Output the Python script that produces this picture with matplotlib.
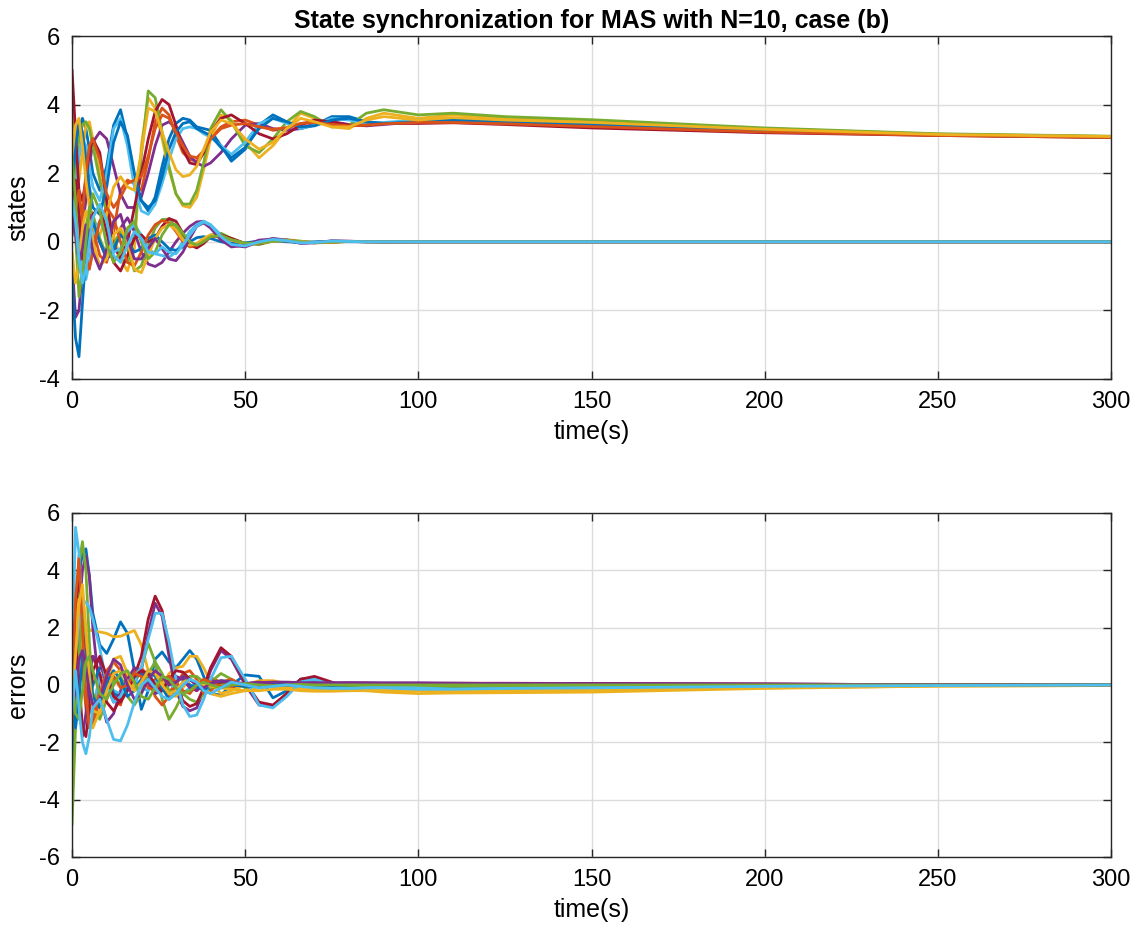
import matplotlib
matplotlib.use("Agg")
import matplotlib.pyplot as plt

plt.rcParams['font.family'] = ['Liberation Sans Narrow', 'Liberation Sans', 'DejaVu Sans']
plt.rcParams['axes.unicode_minus'] = False  # MATLAB shows a plain hyphen

# sample times (s)
t = [0, 1, 2, 3, 4, 5, 6,
     8, 10, 12, 14, 16, 18, 20,
     22, 24, 26, 28, 30, 32, 34,
     36, 38, 40, 43, 46, 50, 54,
     58, 62, 66, 70, 75, 80, 85,
     90, 100, 110, 125, 150, 200, 250,
     300]

# first state of the 10 agents (settles near 3)
x1_agents = [
    [0.2, 2.0, 3.3, 3.6, 3.3, 2.7, 2.0, 1.5, 2.2, 3.4, 3.85, 3.0, 1.8, 1.2,
     0.9, 1.3, 2.2, 3.0, 3.45, 3.6, 3.55, 3.35, 3.3, 3.25, 2.8, 2.35, 2.7, 3.4,
     3.7, 3.5, 3.3, 3.4, 3.65, 3.65, 3.5, 3.45, 3.55, 3.6, 3.52, 3.45, 3.27, 3.13, 3.06],
    [0.3, 1.0, 2.5, 3.0, 2.2, 1.2, 0.4, -0.4, -0.6, 0.3, 1.5, 1.8, 1.7, 1.5,
     2.4, 3.5, 3.9, 3.7, 3.1, 2.6, 2.4, 2.35, 2.6, 3.0, 3.35, 3.5, 3.55, 3.4,
     3.25, 3.3, 3.45, 3.5, 3.45, 3.4, 3.4, 3.45, 3.5, 3.5, 3.45, 3.38, 3.22, 3.11, 3.05],
    [4.0, 3.0, 1.8, 2.6, 3.4, 3.5, 3.0, 2.0, 1.0, 0.2, -0.5, -0.85, -0.2, 2.8,
     4.2, 3.9, 3.0, 2.1, 1.4, 1.05, 1.0, 1.3, 2.1, 3.0, 3.7, 3.55, 2.9, 2.45,
     2.8, 3.3, 3.75, 3.6, 3.35, 3.3, 3.6, 3.75, 3.6, 3.7, 3.6, 3.52, 3.3, 3.14, 3.07],
    [3.1, 2.2, 0.8, 0.5, 1.2, 2.2, 2.9, 3.2, 3.0, 2.2, 1.4, 1.0, 1.0, 1.3,
     2.0, 2.8, 3.4, 3.5, 3.3, 2.9, 2.5, 2.3, 2.2, 2.3, 2.6, 3.0, 3.4, 3.45,
     3.3, 3.25, 3.3, 3.45, 3.5, 3.42, 3.38, 3.42, 3.5, 3.5, 3.45, 3.38, 3.22, 3.11, 3.05],
    [1.0, 2.2, 3.0, 3.4, 3.5, 3.3, 2.8, 1.8, 0.8, 0.0, -0.5, -0.6, 0.2, 2.5,
     4.4, 4.2, 3.2, 2.2, 1.4, 1.1, 1.1, 1.5, 2.3, 3.3, 3.85, 3.5, 2.8, 2.6,
     3.0, 3.5, 3.8, 3.65, 3.35, 3.4, 3.75, 3.85, 3.7, 3.75, 3.65, 3.56, 3.32, 3.15, 3.08],
    [0.8, 1.5, 2.5, 3.0, 2.8, 2.2, 1.6, 1.2, 2.0, 3.3, 3.6, 2.8, 1.6, 0.9,
     0.8, 1.1, 1.7, 2.4, 3.0, 3.3, 3.35, 3.3, 3.15, 3.05, 2.8, 2.55, 2.9, 3.45,
     3.6, 3.45, 3.3, 3.4, 3.6, 3.55, 3.45, 3.48, 3.55, 3.52, 3.48, 3.4, 3.24, 3.12, 3.06],
    [5.0, 3.2, 1.5, 1.2, 1.8, 2.6, 3.0, 2.6, 1.2, -0.1, -0.5, 0.0, 1.0, 2.0,
     3.0, 3.8, 4.15, 4.0, 3.4, 2.7, 2.3, 2.25, 2.6, 3.2, 3.6, 3.7, 3.45, 3.15,
     3.0, 3.15, 3.4, 3.55, 3.5, 3.4, 3.4, 3.45, 3.45, 3.47, 3.42, 3.32, 3.18, 3.1, 3.04],
    [1.5, 2.8, 3.5, 3.2, 2.4, 1.6, 1.0, 0.8, 1.6, 2.9, 3.5, 3.1, 2.0, 1.2,
     1.0, 1.2, 1.9, 2.7, 3.2, 3.45, 3.5, 3.3, 3.2, 3.1, 2.75, 2.45, 2.75, 3.3,
     3.6, 3.5, 3.35, 3.38, 3.55, 3.6, 3.5, 3.45, 3.5, 3.55, 3.5, 3.42, 3.25, 3.12, 3.05],
    [2.0, 0.5, -0.2, 0.8, 2.0, 2.8, 3.0, 2.4, 1.4, 1.0, 1.3, 1.7, 1.8, 1.9,
     2.5, 3.3, 3.7, 3.6, 3.2, 2.8, 2.5, 2.45, 2.65, 3.0, 3.3, 3.4, 3.45, 3.35,
     3.28, 3.33, 3.45, 3.48, 3.42, 3.38, 3.4, 3.44, 3.48, 3.48, 3.44, 3.36, 3.2, 3.1, 3.04],
    [2.5, 3.4, 3.6, 2.8, 1.8, 1.0, 0.4, 0.2, 0.8, 1.6, 1.9, 1.6, 1.5, 2.6,
     3.9, 3.8, 3.2, 2.6, 2.1, 1.9, 1.95, 2.2, 2.7, 3.2, 3.55, 3.45, 3.0, 2.7,
     2.9, 3.3, 3.6, 3.5, 3.35, 3.35, 3.55, 3.65, 3.55, 3.62, 3.55, 3.48, 3.28, 3.13, 3.07],
]

# second state of the 10 agents (settles at 0)
x2_agents = [
    [-0.5, -2.2, -2.0, -0.8, 0.3, 0.8, 0.6, 0.0, -0.5, -0.3, 0.4, 0.7, 0.3, -0.3,
     -0.65, -0.72, -0.6, -0.3, 0.0, 0.25, 0.45, 0.58, 0.6, 0.45, 0.15, -0.1, -0.15, 0.0,
     0.1, 0.05, -0.05, -0.03, 0.03, 0.02, 0.0, -0.01, 0.0, 0.0, 0.0, 0.0, 0.0, 0.0, 0.0],
    [1.5, 0.2, -1.6, -0.8, 0.4, 1.0, 0.8, 0.1, -0.4, -0.1, 0.3, -0.2, -0.85, -0.7,
     -0.1, 0.4, 0.65, 0.66, 0.45, 0.1, -0.12, -0.15, 0.0, 0.2, 0.25, 0.1, -0.05, -0.08,
     0.02, 0.06, 0.02, -0.03, -0.02, 0.01, 0.01, 0.0, 0.0, 0.0, 0.0, 0.0, 0.0, 0.0, 0.0],
    [0.5, 1.3, 0.6, -0.9, -1.1, -0.6, 0.2, 0.6, 0.2, -0.3, -0.2, 0.3, 0.5, 0.2,
     -0.2, -0.35, -0.4, -0.45, -0.3, 0.0, 0.3, 0.5, 0.6, 0.5, 0.2, -0.05, -0.1, 0.02,
     0.08, 0.03, -0.03, -0.02, 0.02, 0.01, 0.0, 0.0, 0.0, 0.0, 0.0, 0.0, 0.0, 0.0, 0.0],
    [1.0, 1.8, 0.8, -0.5, -0.6, 0.1, 0.8, 1.0, 0.3, -0.6, -0.85, -0.4, 0.1, 0.2,
     0.0, 0.1, 0.45, 0.68, 0.6, 0.25, -0.08, -0.18, -0.05, 0.15, 0.2, 0.1, -0.05, -0.06,
     0.03, 0.05, 0.0, -0.03, -0.01, 0.01, 0.01, 0.0, 0.0, 0.0, 0.0, 0.0, 0.0, 0.0, 0.0],
    [-1.0, -2.8, -3.35, -1.8, -0.3, 0.5, 0.6, 0.0, -0.45, -0.2, 0.2, 0.0, -0.3, -0.2,
     0.1, 0.2, 0.0, -0.2, -0.25, -0.15, 0.0, 0.12, 0.15, 0.1, 0.0, -0.05, -0.03, 0.02,
     0.03, 0.0, -0.02, 0.0, 0.01, 0.0, 0.0, 0.0, 0.0, 0.0, 0.0, 0.0, 0.0, 0.0, 0.0],
    [0.2, 0.9, 1.5, 0.6, -0.4, -0.8, -0.3, 0.6, 1.0, 0.7, 0.0, -0.6, -0.7, -0.3,
     0.2, 0.5, 0.62, 0.55, 0.3, 0.0, -0.15, -0.1, 0.05, 0.15, 0.15, 0.05, -0.05, -0.03,
     0.03, 0.03, 0.0, -0.02, 0.0, 0.01, 0.0, 0.0, 0.0, 0.0, 0.0, 0.0, 0.0, 0.0, 0.0],
    [-0.3, -1.2, -0.6, 0.4, 0.9, 0.6, 0.0, -0.7, -0.5, 0.2, 0.4, 0.0, -0.8, -0.9,
     -0.4, 0.1, 0.4, 0.5, 0.35, 0.05, -0.1, -0.05, 0.1, 0.2, 0.18, 0.05, -0.05, -0.04,
     0.02, 0.04, 0.01, -0.02, -0.01, 0.01, 0.0, 0.0, 0.0, 0.0, 0.0, 0.0, 0.0, 0.0, 0.0],
    [0.8, 0.2, -0.6, -0.2, 0.5, 0.3, -0.3, -0.8, -0.2, 0.6, 0.8, 0.1, -0.5, -0.5,
     -0.2, 0.1, -0.2, -0.5, -0.55, -0.3, 0.1, 0.45, 0.55, 0.4, 0.05, -0.15, -0.1, 0.05,
     0.08, 0.02, -0.03, -0.02, 0.02, 0.01, 0.0, 0.0, 0.0, 0.0, 0.0, 0.0, 0.0, 0.0, 0.0],
    [2.5, 1.2, -0.8, -1.0, 0.0, 0.9, 1.4, 0.9, -0.1, -0.6, -0.3, 0.4, 0.6, 0.0,
     -0.5, -0.3, 0.2, 0.5, 0.5, 0.25, 0.0, -0.1, 0.0, 0.15, 0.18, 0.06, -0.04, -0.04,
     0.02, 0.03, 0.0, -0.02, 0.0, 0.01, 0.0, 0.0, 0.0, 0.0, 0.0, 0.0, 0.0, 0.0, 0.0],
    [1.3, 0.6, -0.5, -1.2, -0.8, 0.0, 0.7, 1.1, 0.6, -0.4, -0.6, -0.1, 0.3, 0.1,
     -0.3, -0.35, -0.15, -0.3, -0.35, -0.1, 0.2, 0.45, 0.58, 0.48, 0.15, -0.08, -0.12, 0.0,
     0.07, 0.03, -0.03, -0.02, 0.02, 0.01, 0.0, 0.0, 0.0, 0.0, 0.0, 0.0, 0.0, 0.0, 0.0],
]

# synchronization errors
err_cols = [
    [-1.0, 1.5, 3.8, 4.6, 4.75, 3.8, 2.5, 1.4, 1.1, 1.6, 2.2, 1.8, 0.5, -0.85,
     -0.2, 0.9, 1.15, 0.8, 0.6, 0.9, 1.2, 0.9, 0.3, -0.3, -0.35, 0.0, 0.35, 0.3,
     -0.45, -0.2, 0.2, 0.2, 0.0, -0.1, 0.0, 0.05, -0.1, -0.12, -0.12, -0.1, -0.04, 0.0, 0.0],
    [-2.9, 2.0, 4.5, 3.0, 0.5, -0.8, -1.0, 0.2, 0.5, -0.3, -0.7, 0.2, 0.5, 0.3,
     0.0, 0.2, -0.1, -0.3, 0.1, 0.3, 0.0, -0.2, 0.1, 0.25, 0.1, -0.1, 0.0, 0.1,
     0.0, -0.05, 0.0, 0.05, 0.0, 0.0, 0.02, 0.0, 0.0, 0.02, 0.02, 0.02, 0.01, 0.0, 0.0],
    [0.0, 0.8, 1.5, 1.8, 1.9, 1.9, 1.9, 1.85, 1.8, 1.68, 1.7, 1.8, 1.9, 1.4,
     0.5, -0.3, -0.1, 0.4, 0.6, 0.65, 1.0, 1.0, 0.6, 0.1, -0.3, -0.2, 0.0, 0.15,
     0.15, 0.05, -0.1, -0.15, -0.1, -0.15, -0.2, -0.25, -0.3, -0.28, -0.27, -0.25, -0.12, -0.04, -0.02],
    [-0.5, 0.8, 2.5, 4.0, 4.5, 3.8, 2.0, -0.3, -1.3, -1.0, -0.2, 0.3, 0.1, 0.5,
     1.8, 2.85, 2.4, 1.0, -0.2, -0.75, -0.9, -0.8, -0.2, 0.5, 1.2, 0.9, 0.0, -0.7,
     -0.75, -0.3, 0.2, 0.25, 0.05, -0.1, -0.05, 0.02, 0.05, 0.05, 0.05, 0.05, 0.03, 0.01, 0.0],
    [-1.5, 1.5, 4.2, 5.0, 4.0, 1.5, -0.5, -1.2, -0.5, 0.2, 0.3, -0.2, 0.1, 0.6,
     1.45, 0.8, -0.5, -1.2, -0.8, -0.3, -0.5, -0.6, -0.3, 0.1, 0.4, 0.2, -0.1, -0.1,
     0.0, 0.05, 0.0, -0.02, -0.03, 0.0, 0.01, 0.0, 0.0, -0.02, -0.02, -0.01, 0.0, 0.0, 0.0],
    [0.5, 5.5, 4.6, 2.2, 0.3, -1.0, -0.8, 0.3, 0.4, -0.2, -0.3, 0.2, 0.3, -0.1,
     -0.2, 0.1, 0.3, 0.1, -0.2, -0.3, -0.1, 0.1, 0.1, -0.05, -0.1, 0.0, 0.05, 0.0,
     -0.02, 0.0, 0.0, 0.0, 0.0, 0.0, 0.0, 0.0, 0.0, 0.0, 0.0, 0.0, 0.0, 0.0, 0.0],
    [0.3, 2.5, 4.0, 2.0, 0.5, 0.9, 1.0, 0.4, -0.6, -0.9, -0.5, 0.1, 0.3, 1.0,
     2.3, 3.1, 2.6, 1.3, 0.1, -0.55, -0.75, -0.65, -0.1, 0.6, 1.3, 1.0, 0.1, -0.6,
     -0.7, -0.3, 0.2, 0.3, 0.1, -0.1, -0.05, 0.02, 0.05, 0.06, 0.06, 0.05, 0.03, 0.01, 0.0],
    [-4.0, -1.0, 1.5, 1.0, 0.0, -0.5, 0.0, 0.6, 0.4, -0.3, -0.4, 0.0, 0.3, 0.4,
     0.2, -0.1, -0.2, 0.0, 0.2, 0.2, 0.0, -0.1, 0.0, 0.1, 0.1, 0.0, -0.05, 0.0,
     0.03, 0.0, -0.02, 0.0, 0.01, 0.0, 0.0, 0.0, 0.0, 0.0, 0.0, 0.0, 0.0, 0.0, 0.0],
    [0.0, 1.0, 2.0, 0.5, -0.8, -1.5, -1.4, -0.5, 0.5, 0.8, 0.5, 0.3, 0.4, 0.6,
     0.3, -0.4, -0.7, -0.4, 0.0, 0.4, 0.5, 0.2, -0.3, -0.2, 0.1, 0.2, -0.05, -0.1,
     0.05, 0.08, 0.0, -0.03, 0.0, 0.02, 0.02, 0.01, 0.02, 0.02, 0.02, 0.01, 0.01, 0.0, 0.0],
    [-0.3, 2.0, 3.0, 1.5, -0.2, -1.2, -1.5, -0.9, 0.0, 0.9, 1.0, 0.4, -0.1, 0.0,
     0.3, 0.4, 0.2, -0.3, -0.4, -0.1, 0.2, 0.1, -0.1, -0.3, -0.4, -0.3, -0.2, -0.1,
     -0.05, -0.1, -0.15, -0.15, -0.15, -0.15, -0.12, -0.12, -0.15, -0.15, -0.14, -0.12, -0.06, -0.02, 0.0],
    [0.8, 1.0, -0.5, -1.8, -1.0, 0.3, 1.0, 0.8, 0.0, -0.6, -0.3, 0.2, 0.6, 0.5,
     0.1, -0.3, -0.2, 0.1, 0.3, 0.2, -0.1, -0.2, 0.0, 0.15, 0.1, 0.0, 0.05, 0.1,
     0.05, 0.08, 0.1, 0.08, 0.07, 0.08, 0.08, 0.07, 0.07, 0.06, 0.05, 0.04, 0.03, 0.01, 0.0],
    [-4.85, -1.5, 1.0, 2.5, 1.8, 0.5, -0.3, -0.6, 0.0, 0.3, 0.0, -0.4, -0.7, -0.3,
     0.4, 0.8, 0.4, -0.2, -0.3, 0.0, 0.3, 0.3, 0.1, -0.1, 0.0, 0.1, 0.0, -0.05,
     0.0, 0.03, 0.0, -0.05, -0.05, -0.06, -0.06, -0.05, -0.05, -0.05, -0.04, -0.03, -0.02, -0.01, 0.0],
    [0.0, 1.0, 2.2, 2.8, 2.9, 2.7, 2.3, 1.3, 0.0, -0.6, -0.4, 0.1, 0.3, 0.6,
     1.6, 2.5, 2.5, 1.5, 0.2, -0.7, -1.1, -1.05, -0.5, 0.2, 0.95, 1.0, 0.2, -0.7,
     -0.8, -0.4, 0.1, 0.2, 0.0, -0.15, -0.1, -0.05, -0.1, -0.15, -0.14, -0.1, -0.05, -0.02, 0.0],
    [0.5, 1.5, 0.2, -1.5, -1.8, -0.8, 0.5, 1.0, 0.3, -0.4, -0.6, -0.2, 0.3, 0.5,
     0.4, 0.0, -0.2, 0.2, 0.5, 0.45, 0.2, 0.0, -0.1, 0.0, 0.1, 0.1, 0.0, -0.03,
     0.02, 0.05, 0.05, 0.05, 0.04, 0.05, 0.05, 0.05, 0.04, 0.03, 0.03, 0.02, 0.01, 0.0, 0.0],
    [-0.5, -1.5, -0.5, 1.0, 1.2, 0.5, -0.4, -0.8, 0.1, 0.5, 0.2, -0.4, -0.2, 0.2,
     0.5, 0.3, -0.1, -0.5, -0.3, 0.1, 0.2, 0.0, -0.2, 0.0, 0.15, 0.1, -0.05, -0.05,
     0.02, 0.05, 0.05, 0.0, -0.02, 0.0, 0.02, 0.03, 0.03, 0.03, 0.02, 0.02, 0.01, 0.0, 0.0],
    [-1.2, 3.0, 4.4, 2.0, -0.3, -1.5, -1.2, -0.3, 0.4, 0.3, -0.1, 0.0, 0.4, 0.3,
     -0.1, -0.2, 0.2, 0.3, 0.1, -0.2, -0.3, 0.0, 0.2, 0.1, -0.05, 0.0, 0.05, 0.0,
     -0.03, 0.0, 0.0, 0.02, 0.02, 0.02, 0.02, 0.02, 0.02, 0.02, 0.01, 0.01, 0.0, 0.0, 0.0],
    [-0.5, 1.0, 2.8, 3.5, 2.0, 0.3, -0.9, -1.0, -0.2, 0.4, 0.5, 0.1, -0.2, 0.1,
     0.5, 0.4, 0.0, -0.3, -0.2, 0.1, 0.2, 0.1, 0.0, -0.05, -0.1, -0.15, -0.2, -0.2,
     -0.15, -0.15, -0.2, -0.22, -0.22, -0.2, -0.2, -0.2, -0.2, -0.22, -0.2, -0.18, -0.1, -0.04, -0.02],
    [-0.8, -0.3, 0.9, 1.2, 0.6, -0.2, -0.7, -0.5, 0.3, 0.9, 0.7, 0.0, -0.5, -0.3,
     0.2, 0.5, 0.3, 0.0, 0.1, 0.3, 0.2, 0.0, -0.1, 0.05, 0.15, 0.1, 0.05, 0.08,
     0.1, 0.1, 0.08, 0.08, 0.08, 0.08, 0.07, 0.07, 0.07, 0.06, 0.05, 0.04, 0.03, 0.01, 0.0],
    [0.2, -1.0, -1.2, -0.2, 0.8, 1.0, 0.5, -0.3, -0.5, 0.0, 0.4, 0.5, 0.1, -0.4,
     -0.5, -0.1, 0.3, 0.2, -0.1, -0.3, -0.2, 0.0, 0.1, 0.0, -0.1, 0.0, 0.05, 0.0,
     -0.03, 0.0, 0.02, 0.0, 0.0, 0.0, 0.0, 0.0, 0.0, 0.0, 0.0, 0.0, 0.0, 0.0, 0.0],
    [-1.0, 0.5, -0.8, -2.0, -2.4, -1.8, -0.8, -0.5, -1.2, -1.9, -1.95, -1.4, -0.6, 0.0,
     0.2, -0.1, -0.4, -0.5, -0.3, 0.0, 0.2, 0.1, -0.2, -0.3, -0.1, 0.1, 0.0, -0.1,
     -0.05, 0.0, -0.05, -0.1, -0.12, -0.12, -0.1, -0.1, -0.15, -0.15, -0.12, -0.1, -0.05, -0.02, 0.0],
]

# MATLAB default colour order
colors = ['#0072BD', '#D95319', '#EDB120', '#7E2F8E', '#77AC30', '#4DBEEE', '#A2142F']

fig = plt.figure(figsize=(11.4, 9.33), dpi=100)
ax1 = fig.add_axes([0.0632, 0.5938, 0.9114, 0.3676])
ax2 = fig.add_axes([0.0632, 0.0815, 0.9114, 0.3687])

states = x1_agents + x2_agents
for i, y in enumerate(states):
    ax1.plot(t, y, color=colors[i % 7], lw=2.0)
for i, y in enumerate(err_cols):
    ax2.plot(t, y, color=colors[i % 7], lw=2.0)


def matlab_style(ax, ylo, yhi, ylabel):
    ax.set_xlim(0, 300)
    ax.set_ylim(ylo, yhi)
    ax.set_xticks(range(0, 301, 50))
    ax.set_yticks(range(ylo, yhi + 1, 2))
    ax.grid(True, color='#DCDCDC', lw=1.0)
    ax.set_axisbelow(True)
    ax.tick_params(direction='in', top=True, right=True, length=6, width=1,
                   labelsize=17, colors='#262626', labelcolor='black', pad=9)
    for s in ax.spines.values():
        s.set_color('#262626')
        s.set_linewidth(1.0)
    ax.set_xlabel('time(s)', fontsize=18, labelpad=5)
    ax.set_ylabel(ylabel, fontsize=18, labelpad=6)


matlab_style(ax1, -4, 6, 'states')
matlab_style(ax2, -6, 6, 'errors')
ax1.set_title('State synchronization for MAS with N=10, case (b)',
              fontsize=18, fontweight='bold', pad=6)

fig.savefig('out.png', dpi=100)
